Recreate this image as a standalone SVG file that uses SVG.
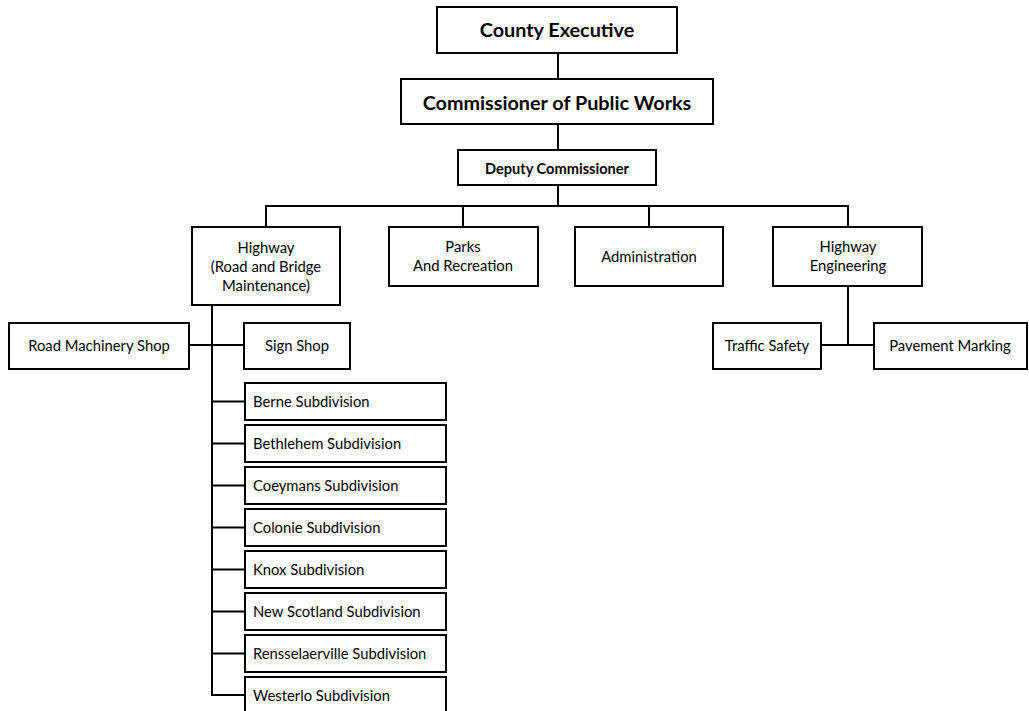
<svg xmlns="http://www.w3.org/2000/svg" width="1029" height="711" viewBox="0 0 1029 711">
<style>
rect{fill:#fff;stroke:#000;stroke-width:2}
.c line,.c polyline{stroke:#000;stroke-width:2;fill:none}
text{font-family:Lato,"Open Sans","Liberation Sans",sans-serif;fill:#000;font-size:14.8px}
.m{text-anchor:middle}
.b{font-weight:bold}
</style>
<rect x="0" y="0" width="1029" height="711" style="stroke:none"/>
<g class="c" id="connectors">
<line x1="558" y1="53" x2="558" y2="79"/>
<line x1="558" y1="124" x2="558" y2="150"/>
<line x1="558" y1="185" x2="558" y2="206"/>
<polyline points="266,227 266,206 848,206 848,227"/>
<line x1="463" y1="206" x2="463" y2="227"/>
<line x1="649" y1="206" x2="649" y2="227"/>
<polyline points="212,305 212,695 245,695"/>
<line x1="189" y1="345" x2="244" y2="345"/>
<line x1="212" y1="401.5" x2="245" y2="401.5"/>
<line x1="212" y1="443.5" x2="245" y2="443.5"/>
<line x1="212" y1="485.5" x2="245" y2="485.5"/>
<line x1="212" y1="527.5" x2="245" y2="527.5"/>
<line x1="212" y1="569.5" x2="245" y2="569.5"/>
<line x1="212" y1="611.5" x2="245" y2="611.5"/>
<line x1="212" y1="653.5" x2="245" y2="653.5"/>
<line x1="848" y1="286" x2="848" y2="345"/>
<line x1="821" y1="345" x2="874" y2="345"/>
</g>
<g id="county-executive"><rect x="437" y="7" width="240" height="46"/><text class="m b" x="557" y="37" style="font-size:19.8px">County Executive</text></g>
<g id="commissioner"><rect x="401" y="79" width="312" height="45"/><text class="m b" x="557" y="110" style="font-size:19.8px">Commissioner of Public Works</text></g>
<g id="deputy"><rect x="458" y="150" width="198" height="35"/><text class="m b" x="557" y="174" style="font-size:14.6px">Deputy Commissioner</text></g>
<g id="highway"><rect x="192" y="227" width="148" height="78"/><text class="m" x="266" y="253">Highway</text><text class="m" x="266" y="272">(Road and Bridge</text><text class="m" x="266" y="291">Maintenance)</text></g>
<g id="parks"><rect x="389" y="227" width="149" height="59"/><text class="m" x="463" y="252">Parks</text><text class="m" x="463" y="271">And Recreation</text></g>
<g id="administration"><rect x="575" y="227" width="148" height="59"/><text class="m" x="649" y="262">Administration</text></g>
<g id="highway-engineering"><rect x="773" y="227" width="149" height="59"/><text class="m" x="848" y="252">Highway</text><text class="m" x="848" y="271">Engineering</text></g>
<g id="road-machinery"><rect x="9" y="323" width="180" height="46"/><text class="m" x="99" y="351">Road Machinery Shop</text></g>
<g id="sign-shop"><rect x="244" y="323" width="106" height="46"/><text class="m" x="297" y="351">Sign Shop</text></g>
<g id="traffic-safety"><rect x="713" y="323" width="108" height="46"/><text class="m" x="767" y="351">Traffic Safety</text></g>
<g id="pavement-marking"><rect x="874" y="323" width="153" height="46"/><text class="m" x="950" y="351">Pavement Marking</text></g>
<g id="berne"><rect x="245" y="383" width="201" height="37"/><text x="253" y="406.5">Berne Subdivision</text></g>
<g id="bethlehem"><rect x="245" y="425" width="201" height="37"/><text x="253" y="448.5">Bethlehem Subdivision</text></g>
<g id="coeymans"><rect x="245" y="467" width="201" height="37"/><text x="253" y="490.5">Coeymans Subdivision</text></g>
<g id="colonie"><rect x="245" y="509" width="201" height="37"/><text x="253" y="532.5">Colonie Subdivision</text></g>
<g id="knox"><rect x="245" y="551" width="201" height="37"/><text x="253" y="574.5">Knox Subdivision</text></g>
<g id="new-scotland"><rect x="245" y="593" width="201" height="37"/><text x="253" y="616.5">New Scotland Subdivision</text></g>
<g id="rensselaerville"><rect x="245" y="635" width="201" height="37"/><text x="253" y="658.5">Rensselaerville Subdivision</text></g>
<g id="westerlo"><rect x="245" y="677" width="201" height="37"/><text x="253" y="700.5">Westerlo Subdivision</text></g>
</svg>
